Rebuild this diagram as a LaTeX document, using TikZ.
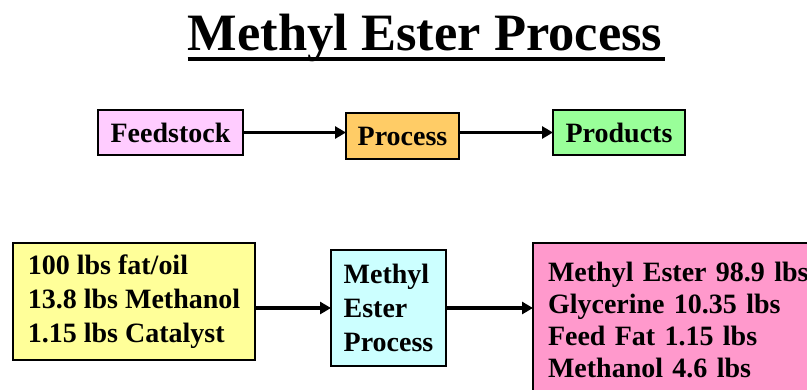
\documentclass[tikz,border=0pt]{standalone}
\usepackage{fontspec}
\setmainfont{Liberation Serif}
\usetikzlibrary{arrows.meta}

\definecolor{feedpink}{HTML}{FFCCFF}
\definecolor{procorange}{HTML}{FFCC66}
\definecolor{prodgreen}{HTML}{99FF99}
\definecolor{inyellow}{HTML}{FFFF99}
\definecolor{esterblue}{HTML}{CCFFFF}
\definecolor{outpink}{HTML}{FF99CC}

\begin{document}
\begin{tikzpicture}[x=1pt, y=-1pt]

    \useasboundingbox (0,0) rectangle (807,389);
    \clip (0,0) rectangle (807,389);

    \tikzset{boxstyle/.style={draw, line width=2.5pt, outer sep=0pt, inner ysep=0pt,
                 font=\fontsize{28}{34}\selectfont\bfseries},
             arrowstyle/.style={line width=3.5pt, -{Triangle[length=11pt,width=12pt]}}}

    \node[font=\fontsize{52.5}{60}\selectfont\bfseries, inner sep=0pt, anchor=base] (title) at (425, 50) {Methyl Ester Process};
    \draw[line width=4.5pt] ([yshift=-9pt]title.base west) -- ([yshift=-9pt,xshift=3pt]title.base east);

    \node[boxstyle, fill=feedpink, minimum width=145, minimum height=45] (feed) at (170.5, 132.5) {Feedstock};
    \node[boxstyle, fill=procorange, minimum width=113, minimum height=46] (proc) at (402.5, 136) {Process};
    \node[boxstyle, fill=prodgreen, minimum width=132, minimum height=45] (prod) at (619, 132.5) {Products};

    % Cajas de abajo.
    \node[boxstyle, fill=inyellow, anchor=north west, minimum width=242, minimum height=117,
          inner xsep=8, align=left] (feedin) at (13, 243)
          {100 lbs fat/oil\\13.8 lbs Methanol\\1.15 lbs Catalyst};
    \node[boxstyle, fill=esterblue, anchor=north west, minimum width=115, minimum height=116,
          inner xsep=8, align=left] (ester) at (331, 250)
          {Methyl\\Ester\\Process};
    \node[boxstyle, fill=outpink, anchor=north west, minimum width=320, minimum height=153,
          inner xsep=15, text width=290, align=left, font=\fontsize{28}{32}\selectfont\bfseries] (prodout) at (533, 243)
          {Methyl Ester 98.9 lbs\\Glycerine 10.35 lbs\\Feed Fat 1.15 lbs\\Methanol 4.6 lbs};

    \draw[arrowstyle] (feed.east) -- (feed.east -| proc.west);
    \draw[arrowstyle] (prod.west -| proc.east) -- (prod.west);
    \draw[arrowstyle] (ester.west -| feedin.east) -- (ester.west);
    \draw[arrowstyle] (ester.east) -- (ester.east -| prodout.west);

\end{tikzpicture}
\end{document}
